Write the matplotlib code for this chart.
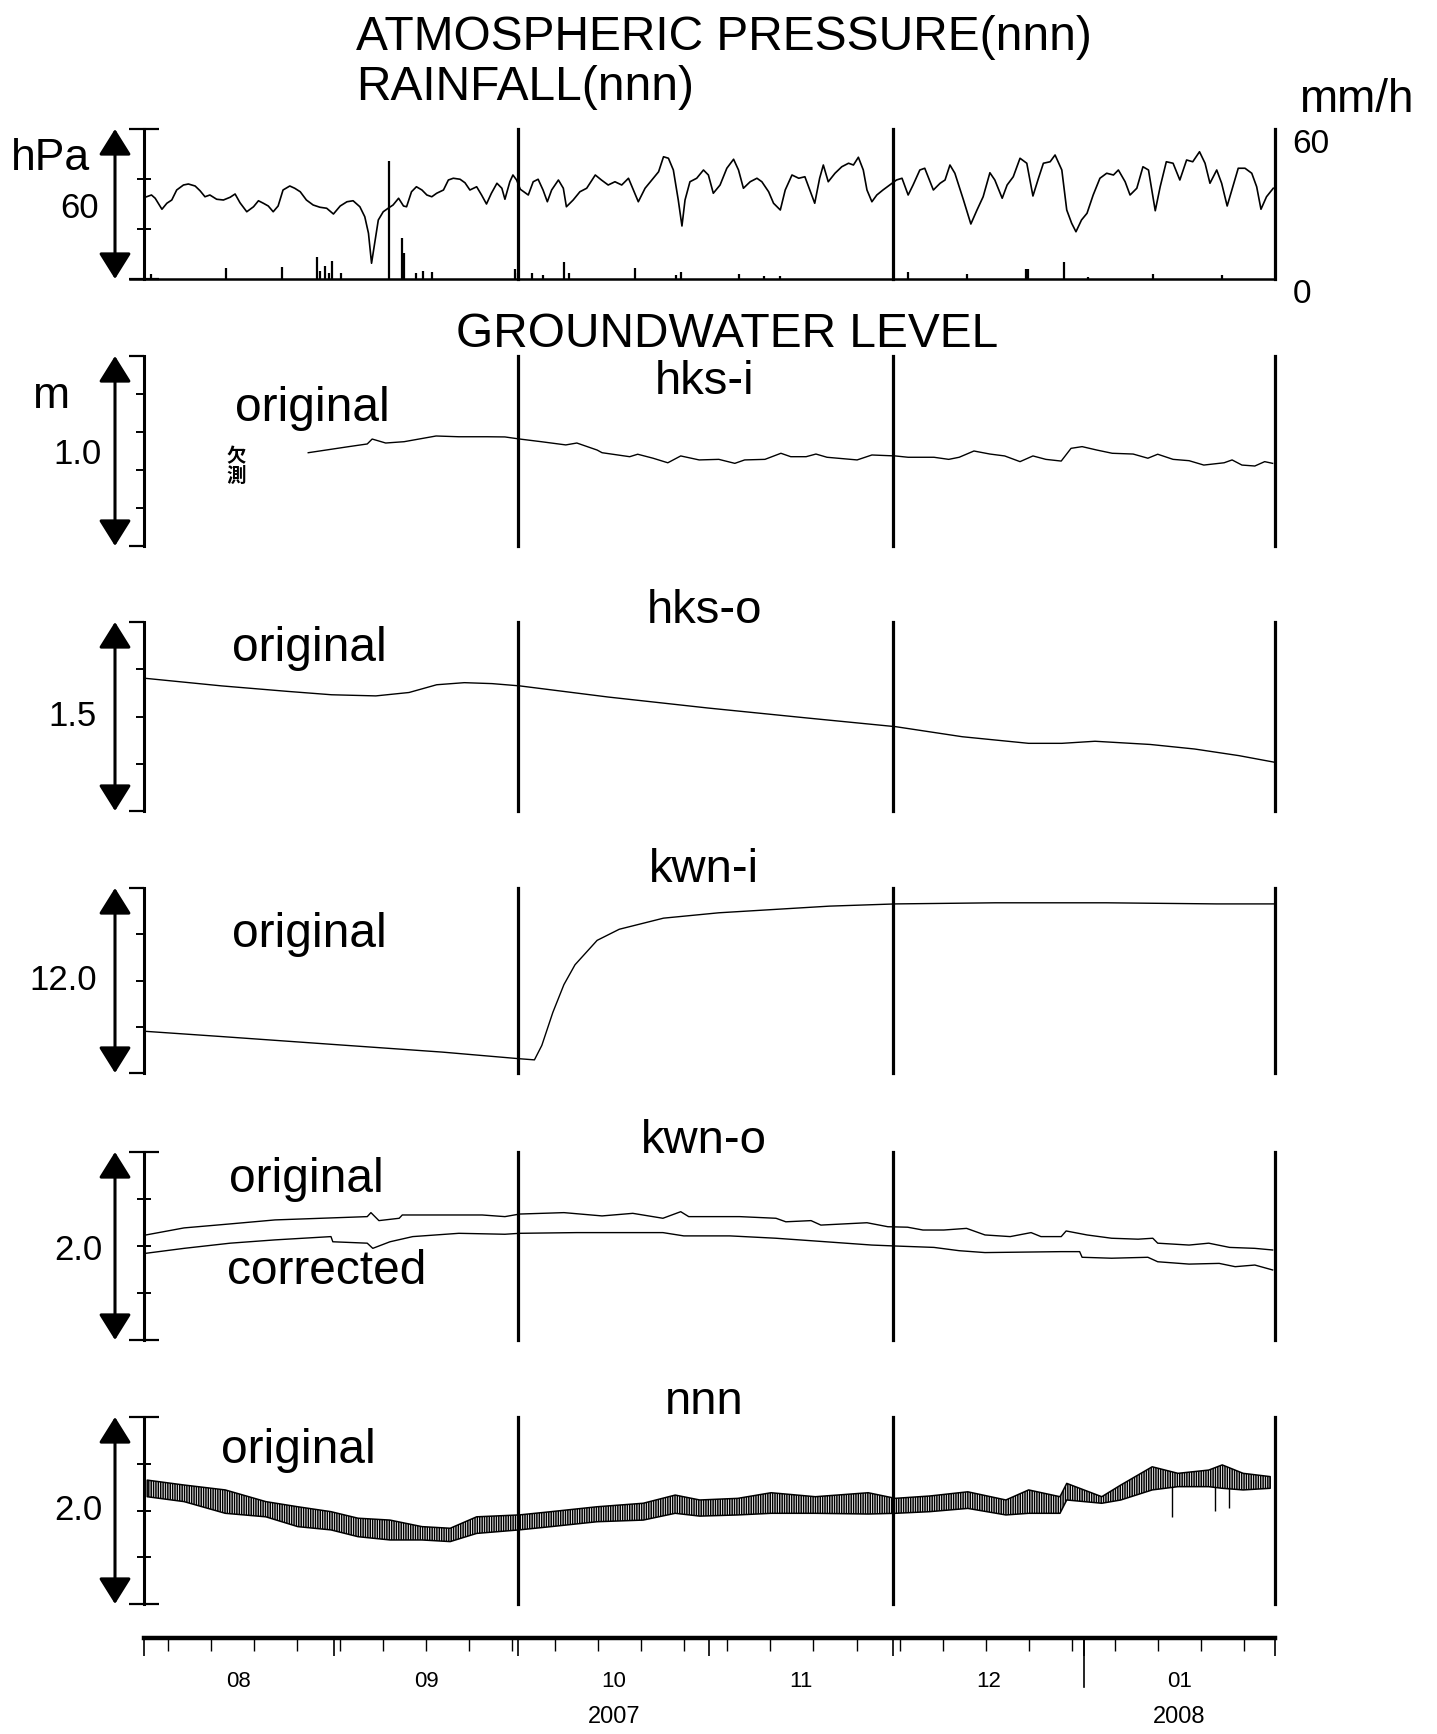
import numpy as np
import pandas as pd
import matplotlib
matplotlib.use("Agg")
import matplotlib.pyplot as plt
import matplotlib.transforms as mtransforms

plt.rcParams['font.family'] = ['Liberation Sans', 'DejaVu Sans']
plt.rcParams['hatch.linewidth'] = 1.1

# ---------------- data (x = days since 2007-08-01) ----------------
START = pd.Timestamp('2007-08-01')
END = pd.Timestamp('2008-02-01')
NDAYS = (END - START).days

pressure_day = [0.5, 1.3, 1.9, 3.0, 3.8, 4.6, 5.4, 6.5, 7.3, 8.4, 9.2, 10.0, 10.8, 11.9, 13.0, 14.1, 14.9, 15.7, 16.8, 17.9,
                18.7, 19.5, 20.3, 21.1, 21.9, 22.7, 23.8, 24.6, 25.5, 26.5, 27.6, 28.7, 29.8, 30.9, 32.0, 33.1, 34.1, 35.2, 36.0, 36.6,
                37.1, 37.7, 38.2, 39.0, 39.8, 40.6, 41.5, 42.3, 42.8, 43.6, 44.4, 45.3, 46.1, 46.9, 47.7, 48.8, 49.6, 50.4, 51.5, 52.3,
                53.1, 54.2, 55.0, 55.8, 56.6, 57.5, 58.3, 58.8, 59.6, 60.1, 60.7, 61.3,
                62.6, 63.4, 64.2, 65.0, 65.7, 66.4, 67.5, 68.3, 68.8, 69.9, 71.0, 72.1, 73.5, 74.5, 75.6, 76.7, 77.8, 78.9, 79.7, 80.5,
                81.6, 82.7, 83.8, 84.6, 85.4, 86.2, 87.0, 87.6, 88.1, 88.9, 90.0, 91.1, 91.9, 92.7, 93.8, 94.9, 96.0, 96.8, 97.6, 98.7,
                99.8, 100.6, 101.7, 102.5, 103.6, 104.4, 105.5, 106.6, 107.6, 108.5, 109.2, 110.0, 110.6, 111.4, 112.5, 113.6, 114.7, 115.5, 116.3, 117.1,
                117.7, 118.5, 119.3, 120.3, 121.4, 122.5,
                123.4, 124.4, 125.2, 126.3, 127.1, 128.5, 129.6, 130.4, 131.2, 132.0, 133.4, 134.6, 135.6, 136.6, 137.7, 138.5, 139.7, 140.5, 141.5, 142.6,
                143.7, 144.7, 145.6, 146.4, 147.5, 148.3, 149.4, 150.2, 151.0, 151.7, 152.6, 153.5, 154.5, 155.6, 156.7, 157.8, 158.6, 159.7, 160.5, 161.6,
                162.6, 163.5, 164.6, 165.4, 166.4, 167.5, 168.6, 169.7, 170.7, 171.8, 172.7, 173.5, 174.6, 175.4, 176.3, 177.3, 178.1, 179.2, 180.3, 181.1,
                181.8, 182.7, 183.8]
pressure_hpa = [62.9, 63.6, 62.3, 57.9, 60.3, 61.6, 65.6, 67.6, 68.0, 67.2, 65.3, 62.9, 63.6, 61.9, 61.6, 62.7, 64.0, 60.5, 56.9, 58.9,
                61.3, 60.3, 59.2, 56.9, 59.2, 65.6, 67.2, 66.3, 64.9, 61.6, 59.6, 58.7, 58.3, 56.0, 59.2, 60.9, 61.3, 58.9, 54.9, 48.3,
                36.3, 45.6, 53.6, 56.9, 58.3, 59.6, 62.3, 59.2, 58.9, 64.9, 66.9, 65.6, 63.6, 62.9, 64.3, 65.6, 69.6, 70.3, 69.9, 68.5,
                65.6, 66.9, 63.6, 60.0, 64.3, 68.3, 66.3, 61.9, 68.9, 71.6, 69.6, 65.9,
                63.6, 68.9, 69.9, 65.6, 60.9, 65.6, 69.6, 66.3, 58.9, 61.6, 64.9, 66.3, 71.6, 69.6, 67.6, 68.9, 67.6, 70.3, 65.6, 60.9,
                66.3, 69.6, 72.9, 78.9, 78.3, 73.6, 61.6, 51.2, 61.6, 68.9, 70.3, 73.6, 71.6, 64.3, 67.6, 74.3, 77.9, 73.6, 66.3, 68.9,
                70.3, 68.9, 64.9, 60.3, 57.6, 65.6, 71.6, 70.3, 70.9, 64.9, 60.3, 70.3, 75.6, 68.9, 72.3, 74.9, 76.3, 75.6, 78.7, 73.6,
                65.6, 60.9, 63.6, 65.6, 67.6, 69.6,
                70.3, 63.6, 67.6, 73.6, 74.3, 65.6, 68.3, 69.6, 75.6, 72.3, 61.6, 52.0, 57.6, 62.9, 72.5, 69.6, 62.3, 67.6, 70.9, 78.3,
                76.3, 63.2, 70.3, 76.3, 76.9, 79.6, 73.6, 57.6, 52.3, 48.9, 53.6, 56.3, 63.6, 70.3, 72.3, 71.6, 73.6, 68.9, 63.6, 66.3,
                74.9, 73.6, 57.3, 66.9, 76.9, 76.3, 69.6, 77.6, 76.9, 80.9, 76.3, 68.3, 73.6, 68.3, 59.2, 67.6, 74.3, 74.3, 72.3, 66.9,
                57.9, 62.9, 66.3]

rain_day = [1.3, 13.5, 22.5, 28.3, 28.7, 29.6, 30.2, 30.7, 32.1, 39.9, 42.0, 42.3, 44.3, 45.5, 46.9, 60.4, 61.0, 63.2,
            65.0, 68.4, 69.2, 80.0, 86.7, 87.4, 96.9, 101.0, 103.5, 124.3, 134.0, 143.6, 143.9, 149.8, 153.7, 164.3, 175.4]
rain_mmh = [2.0, 4.5, 4.9, 8.7, 3.3, 5.2, 2.3, 7.3, 2.3, 47.3, 16.3, 10.3, 2.3, 3.3, 3.0, 3.9, 2.3, 2.5,
            1.5, 7.0, 2.5, 4.3, 1.6, 3.0, 2.0, 1.2, 1.2, 2.8, 2.0, 4.0, 4.0, 7.0, 1.0, 2.0, 1.6]

hksi_day = [26.8, 33.4, 36.4, 37.2, 39.4, 42.4, 47.6, 51.3, 55.9, 58.8, 61.2, 64.7, 68.7, 70.5, 73.8, 74.6, 79.1, 80.4, 82.9, 85.3,
            87.4, 90.4, 93.6, 96.2, 97.8, 101.1, 103.7, 105.3, 107.8, 109.4, 111.2, 116.1, 118.5, 122.3, 124.4, 128.6, 131.0, 132.7, 135.1, 137.7,
            140.1, 142.6, 144.7, 146.8, 149.3, 150.9, 152.7, 155.1, 157.6, 161.0, 163.4, 165.0, 167.5, 170.1, 172.5, 175.8, 177.1, 178.7, 180.8, 182.4,
            183.7]
hksi_m = [0.991, 1.023, 1.037, 1.063, 1.042, 1.049, 1.079, 1.075, 1.075, 1.074, 1.063, 1.049, 1.032, 1.042, 1.005, 0.991, 0.970, 0.983, 0.962, 0.938,
          0.974, 0.953, 0.956, 0.935, 0.953, 0.956, 0.988, 0.970, 0.970, 0.984, 0.967, 0.953, 0.979, 0.974, 0.967, 0.967, 0.956, 0.967, 1.000, 0.984,
          0.974, 0.944, 0.974, 0.956, 0.947, 1.014, 1.023, 1.005, 0.988, 0.984, 0.962, 0.983, 0.956, 0.949, 0.926, 0.938, 0.953, 0.926, 0.921, 0.944,
          0.935]

hkso_day = [0, 12.7, 23.4, 30.6, 37.8, 43.2, 47.7, 52.2, 56.7, 61.2, 75.6, 91.8, 108.0, 122.4, 133.2, 144.0, 149.4, 154.8,
            163.8, 171.0, 178.2, 184]
hkso_m = [1.703, 1.662, 1.633, 1.615, 1.609, 1.627, 1.668, 1.679, 1.674, 1.662, 1.603, 1.545, 1.492, 1.446, 1.393, 1.358, 1.358, 1.369,
          1.352, 1.328, 1.293, 1.258]

kwni_day = [0, 12.7, 30.6, 48.6, 61.2, 63.6, 64.8, 66.6, 68.4, 70.2, 73.8, 77.4, 84.6, 93.6, 102.6, 111.6, 122.4, 138.6, 156.6, 174.6, 184]
kwni_m = [11.726, 11.697, 11.655, 11.613, 11.577, 11.571, 11.649, 11.828, 11.978, 12.085, 12.217, 12.277, 12.337, 12.366, 12.384,
          12.402, 12.414, 12.420, 12.420, 12.414, 12.414]

kwno_day = [0.4, 6.6, 14.1, 21.4, 28.9, 36.4, 37.0, 38.3, 41.6, 42.1, 47.6, 55.1, 58.8, 61.2, 68.4, 74.6, 79.6, 84.5, 87.4, 88.7,
            97.0, 102.9, 104.5, 108.6, 110.2, 117.7, 121.1, 124.3, 126.8, 130.2, 133.9, 136.9, 141.0, 144.4, 146.0, 149.3, 150.1, 153.5, 157.5, 161.8,
            164.2, 165.0, 170.1, 173.3, 176.7, 180.8, 183.7]
kwno_orig = [2.047, 2.077, 2.094, 2.111, 2.118, 2.125, 2.142, 2.108, 2.118, 2.132, 2.132, 2.132, 2.125, 2.136, 2.142, 2.128, 2.139, 2.118, 2.146, 2.125,
             2.125, 2.118, 2.103, 2.108, 2.089, 2.099, 2.082, 2.080, 2.068, 2.068, 2.075, 2.047, 2.040, 2.057, 2.040, 2.040, 2.064, 2.047, 2.033, 2.029,
             2.033, 2.012, 2.004, 2.012, 1.994, 1.990, 1.983]
kwnc_day = [0.4, 6.6, 14.1, 21.4, 30.5, 30.8, 36.4, 37.3, 40.1, 43.8, 51.3, 58.8, 61.2, 70.5, 84.5, 87.9, 95.4, 102.9, 109.4, 118.5,
            122.3, 128.6, 132.7, 136.9, 149.3, 152.3, 152.7, 157.5, 163.4, 165.0, 170.1, 175.0, 177.6, 180.8, 183.7]
kwnc_m = [1.969, 1.990, 2.012, 2.026, 2.040, 2.018, 2.012, 1.990, 2.018, 2.040, 2.054, 2.050, 2.054, 2.057, 2.057, 2.043, 2.043, 2.033, 2.021, 2.004,
          2.000, 1.994, 1.980, 1.972, 1.976, 1.976, 1.952, 1.948, 1.952, 1.933, 1.923, 1.926, 1.912, 1.919, 1.898]

nnn_day = [0.6, 6.6, 13.3, 19.9, 25.1, 30.5, 34.9, 40.1, 45.3, 49.9, 54.2, 61.1, 66.3, 73.8, 81.3, 86.5, 90.5, 96.7, 102.1, 109.3,
           117.9, 122.3, 127.9, 134.1, 140.3, 144.0, 149.1, 150.2, 155.9, 159.0, 164.1, 168.3, 173.3, 175.5, 178.9, 183.3]
nnn_hi = [2.130, 2.109, 2.088, 2.038, 2.016, 1.995, 1.967, 1.959, 1.931, 1.924, 1.973, 1.981, 1.995, 2.016, 2.031, 2.066, 2.045, 2.052, 2.076, 2.059,
          2.076, 2.052, 2.062, 2.080, 2.045, 2.088, 2.059, 2.116, 2.059, 2.109, 2.187, 2.159, 2.173, 2.195, 2.159, 2.145]
nnn_lo = [2.059, 2.038, 1.988, 1.973, 1.931, 1.917, 1.888, 1.874, 1.874, 1.867, 1.902, 1.917, 1.931, 1.952, 1.959, 1.988, 1.976, 1.981, 1.988, 1.988,
          1.985, 1.988, 1.995, 2.009, 1.981, 1.988, 1.988, 2.045, 2.031, 2.045, 2.088, 2.102, 2.102, 2.095, 2.088, 2.095]
nnn_spike_day = [167.3, 174.3, 176.6]
nnn_spike_bot = [1.973, 1.999, 2.009]
nnn_spike_top = [2.10, 2.10, 2.10]

divider_days = [61, 122, 184]
month_labels = ['08', '09', '10', '11', '12', '01']
year_labels = {'10': '2007', '01': '2008'}

# ---------------- layout helpers (pixel coordinates of a 1437x1734 canvas) ----------------
W, H = 1437, 1734
fig = plt.figure(figsize=(W / 100, H / 100), dpi=100)
X0, X1 = 143.5, 1274.5
ARROW_X = 115
BIG = 34.5
SUB = 34
NUM = 25


def rect(y0, y1, x0=X0, x1=X1):
    return [x0 / W, 1 - y1 / H, (x1 - x0) / W, (y1 - y0) / H]


def ftext(x, y, s, **kw):
    return fig.text(x / W, 1 - y / H, s, **kw)


def make_panel(y0, y1, ylim, minor, style):
    ax = fig.add_axes(rect(y0, y1))
    ax.set_xlim(0, NDAYS)
    ax.set_ylim(*ylim)
    ax.patch.set_visible(False)
    for s in ['top', 'right', 'bottom']:
        ax.spines[s].set_visible(False)
    ax.spines['left'].set_linewidth(2.2)
    ax.set_xticks([])
    ax.set_yticks(list(ylim))
    ax.set_yticks(minor, minor=True)
    if style == 'out':
        ax.tick_params(axis='y', which='major', direction='out', length=11, width=1.6, labelleft=False)
        ax.tick_params(axis='y', which='minor', direction='out', length=6, width=1.4)
    else:
        ax.tick_params(axis='y', which='major', direction='inout', length=22, width=1.6, labelleft=False)
        ax.tick_params(axis='y', which='minor', direction='inout', length=9.5, width=1.4)
    for d in divider_days:
        ax.axvline(d, color='black', lw=2.3, clip_on=False)
    # double-headed arrow to the left of the axis
    tr = mtransforms.blended_transform_factory(fig.transFigure, ax.transAxes)
    ax.annotate('', xy=(ARROW_X / W, 1.0), xytext=(ARROW_X / W, 0.0), xycoords=tr, textcoords=tr,
                arrowprops=dict(arrowstyle='<|-|>,head_length=0.8,head_width=0.5', mutation_scale=20,
                                lw=2.2, color='black', shrinkA=0, shrinkB=0))
    return ax


def ylabel_value(ax, value, text, xright, dy=0.0):
    tr = mtransforms.blended_transform_factory(fig.transFigure, ax.transData)
    ax.text(xright / W, value + dy, text, transform=tr, ha='right', va='center', fontsize=NUM)


# ---------------- top panel : pressure & rainfall ----------------
ax_p = make_panel(129, 279, (30, 90), [50, 70], 'inout')
ax_p.plot(pressure_day, pressure_hpa, color='black', lw=1.2)
ax_p.axhline(30, xmin=-0.012, xmax=1.0, color='black', lw=1.8, clip_on=False)
ylabel_value(ax_p, 60, '60', 99, dy=-1.6)
ax_r = ax_p.twinx()
ax_r.set_ylim(0, 60)
for s in ['top', 'left', 'bottom', 'right']:
    ax_r.spines[s].set_visible(False)
ax_r.vlines(rain_day, 0, rain_mmh, color='black', lw=1.6)
ax_r.set_yticks([0, 60])
ax_r.set_yticklabels(['0', '60'], fontsize=24)
ax_r.tick_params(axis='y', length=0, pad=13)
for lab in ax_r.get_yticklabels():
    lab.set_verticalalignment('top')

ftext(356, 50, 'ATMOSPHERIC PRESSURE(nnn)', fontsize=BIG, va='baseline')
ftext(356, 100, 'RAINFALL(nnn)', fontsize=BIG, va='baseline')
ftext(1299, 112, 'mm/h', fontsize=33, va='baseline')
ftext(11, 170, 'hPa', fontsize=32, va='baseline')

# ---------------- groundwater panels ----------------
ftext(456, 347, 'GROUNDWATER LEVEL', fontsize=BIG, va='baseline')
ftext(52, 397, 'm', fontsize=32, ha='center', va='center')

SUB_X = 704
# hks-i
ax1 = make_panel(356, 546, (0.5, 1.5), [0.7, 0.9, 1.1, 1.3], 'out')
ax1.plot(hksi_day, hksi_m, color='black', lw=1.0)
ylabel_value(ax1, 1.0, '1.0', 102, dy=-0.02)
ftext(SUB_X, 394, 'hks-i', fontsize=SUB, ha='center', va='baseline')
ftext(235, 421, 'original', fontsize=BIG, va='baseline')
ftext(236, 467, '欠\n測', fontsize=14, ha='center', va='center', linespacing=1.05, fontweight='bold',
      family=['Noto Sans CJK JP', 'DejaVu Sans'])

# hks-o
ax2 = make_panel(622, 811, (1.0, 2.0), [1.25, 1.5, 1.75], 'out')
ax2.plot(hkso_day, hkso_m, color='black', lw=1.0)
ylabel_value(ax2, 1.5, '1.5', 97)
ftext(SUB_X, 623, 'hks-o', fontsize=SUB, ha='center', va='baseline')
ftext(232, 661, 'original', fontsize=BIG, va='baseline')

# kwn-i
ax3 = make_panel(888, 1073, (11.5, 12.5), [11.75, 12.0, 12.25], 'out')
ax3.plot(kwni_day, kwni_m, color='black', lw=1.0)
ylabel_value(ax3, 12.0, '12.0', 97)
ftext(SUB_X, 882, 'kwn-i', fontsize=SUB, ha='center', va='baseline')
ftext(232, 947, 'original', fontsize=BIG, va='baseline')

# kwn-o
ax4 = make_panel(1152, 1340, (1.6, 2.4), [1.8, 2.0, 2.2], 'inout')
ax4.plot(kwno_day, kwno_orig, color='black', lw=1.0)
ax4.plot(kwnc_day, kwnc_m, color='black', lw=1.0)
ylabel_value(ax4, 2.0, '2.0', 102, dy=-0.02)
ftext(SUB_X, 1153, 'kwn-o', fontsize=SUB, ha='center', va='baseline')
ftext(229, 1192, 'original', fontsize=BIG, va='baseline')
ftext(227, 1284, 'corrected', fontsize=BIG, va='baseline')

# nnn (dense tidal oscillation shown as its upper/lower envelope)
ax5 = make_panel(1417, 1604, (1.6, 2.4), [1.8, 2.0, 2.2], 'inout')
ax5.fill_between(nnn_day, nnn_lo, nnn_hi, facecolor='white', edgecolor='black', hatch='|||||||', lw=1.1)
ax5.vlines(nnn_spike_day, nnn_spike_bot, nnn_spike_top, color='black', lw=1.0)
ylabel_value(ax5, 2.0, '2.0', 102)
ftext(SUB_X, 1414, 'nnn', fontsize=SUB, ha='center', va='baseline')
ftext(221, 1463, 'original', fontsize=BIG, va='baseline')

# ---------------- time axis ----------------
ax_t = fig.add_axes(rect(1638, 1690))
ax_t.set_xlim(0, NDAYS)
ax_t.set_ylim(0, 1)
ax_t.patch.set_visible(False)
for s in ['left', 'right', 'bottom']:
    ax_t.spines[s].set_visible(False)
ax_t.spines['top'].set_linewidth(3.2)
month_starts = pd.date_range(START, END, freq='MS')
month_off = [(d - START).days for d in month_starts]
sundays = pd.date_range('2007-08-05', END, freq='7D')
sun_off = [(d - START).days for d in sundays]
ax_t.xaxis.set_ticks_position('top')
ax_t.set_xticks(month_off)
ax_t.set_xticks(sun_off, minor=True)
ax_t.tick_params(axis='x', which='major', direction='in', length=13, width=1.2, labeltop=False, labelbottom=False)
ax_t.tick_params(axis='x', which='minor', direction='in', length=9, width=1.0)
ax_t.set_yticks([])
ax_t.axvline((pd.Timestamp('2008-01-01') - START).days, ymin=0.06, ymax=1, color='black', lw=1.2)
mid = [(a + b) / 2 for a, b in zip(month_off[:-1], month_off[1:])]
for x, lab in zip(mid, month_labels):
    ax_t.text(x, 0.16, lab, ha='center', va='center', fontsize=16, transform=ax_t.get_xaxis_transform())
    if lab in year_labels:
        ax_t.text(x, -0.52, year_labels[lab], ha='center', va='center', fontsize=17,
                  transform=ax_t.get_xaxis_transform())

fig.savefig('out.png', dpi=100)
